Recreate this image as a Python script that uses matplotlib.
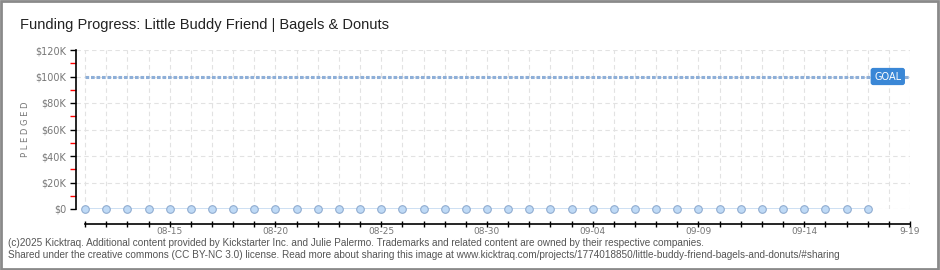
import datetime as dt

import numpy as np
import matplotlib
matplotlib.use('Agg')
import matplotlib.pyplot as plt
import matplotlib.ticker as mticker
from matplotlib.patches import Rectangle

# data =========================================================================
start_day = dt.date(2025, 8, 11)
n_days = 38
days = [start_day + dt.timedelta(days=i) for i in range(n_days)]
pledged = [0] * n_days
goal = 100000
y_ticks = [0, 20000, 40000, 60000, 80000, 100000, 120000]
y_tick_labels = ['$0', '$20K', '$40K', '$60K', '$80K', '$100K', '$120K']
x_label_days = [4, 9, 14, 19, 24, 29, 34, 39]
x_labels = ['08-15', '08-20', '08-25', '08-30', '09-04', '09-09', '09-14', '9-19']

title = 'Funding Progress: Little Buddy Friend | Bagels & Donuts'
footer_1 = ('(c)2025 Kicktraq. Additional content provided by Kickstarter Inc. and Julie Palermo. '
            'Trademarks and related content are owned by their respective companies.')
footer_2 = ('Shared under the creative commons (CC BY-NC 3.0) license. Read more about sharing '
            'this image at www.kicktraq.com/projects/1774018850/little-buddy-friend-bagels-and-donuts/#sharing')

W, H = 940, 270
GREY = '#777777'

fig = plt.figure(figsize=(W / 100, H / 100), dpi=100)
fig.patch.set_facecolor('white')
fig.add_artist(Rectangle((0.001, 0.002), 0.997, 0.995, transform=fig.transFigure,
                         fill=False, edgecolor='#8a8a8a', linewidth=2))

# axes placed in pixel coordinates
left, right, top, bottom = 76, 910, 50, 209
ax = fig.add_axes([left / W, 1 - bottom / H, (right - left) / W, (bottom - top) / H])

x = np.arange(n_days)
ax.plot(x, pledged, color='#c9ddf2', linewidth=2, zorder=3)
ax.scatter(x, pledged, s=30, facecolor='#bfdaf6', edgecolor='#90acd0',
           linewidth=0.8, zorder=4, clip_on=False)

ax.plot([0, 39], [goal, goal], color='#8eafd8', linewidth=2.2,
        linestyle=(0, (1.2, 0.6)), zorder=2)
ax.text(37.95, goal, 'GOAL', color='white', fontsize=7,
        ha='center', va='center', zorder=5,
        bbox=dict(boxstyle='round,pad=0.3,rounding_size=0.2',
                  facecolor='#3a87d6', edgecolor='#3a87d6'))

ax.set_xlim(-0.43, 39)
ax.set_ylim(0, 120000)

tick_days = np.arange(0, 40)
ax.set_xticks(tick_days)
ax.set_xticklabels([x_labels[x_label_days.index(d)] if d in x_label_days else ''
                    for d in tick_days])
ax.tick_params(axis='x', which='major', length=5, width=1, color='black',
               direction='inout', pad=-0.5, labelsize=6.5, labelcolor=GREY)

ax.set_yticks(y_ticks)
ax.set_yticklabels(y_tick_labels)
ax.yaxis.set_minor_locator(mticker.FixedLocator(np.arange(10000, 120000, 20000)))
ax.tick_params(axis='y', which='major', length=4, width=1, color='black',
               labelsize=7, labelcolor=GREY, pad=3)
ax.tick_params(axis='y', which='minor', length=4, width=1, color='red')

ax.grid(axis='both', which='major', color='#e2e2e2', linestyle=(0, (4, 3)), linewidth=0.8)
ax.set_axisbelow(True)

for s in ['top', 'right']:
    ax.spines[s].set_visible(False)
ax.spines['bottom'].set_position(('outward', 11))
ax.spines['bottom'].set_bounds(0, 39)
ax.spines['left'].set_linewidth(1.2)
ax.spines['bottom'].set_linewidth(1.2)

ax.set_ylabel('P L E D G E D', fontsize=6, color=GREY)
ax.yaxis.set_label_coords(-0.055, 0.5)

fig.text(20 / W, 1 - 25 / H, title, fontsize=10.5, color='#222222',
         ha='left', va='center', family='Liberation Sans')
fig.text(8 / W, 1 - 243 / H, footer_1, fontsize=7.2, color='#555555',
         ha='left', va='center', family='Liberation Sans')
fig.text(8 / W, 1 - 255 / H, footer_2, fontsize=7.2, color='#555555',
         ha='left', va='center', family='Liberation Sans')

fig.savefig('out.png', dpi=100)
